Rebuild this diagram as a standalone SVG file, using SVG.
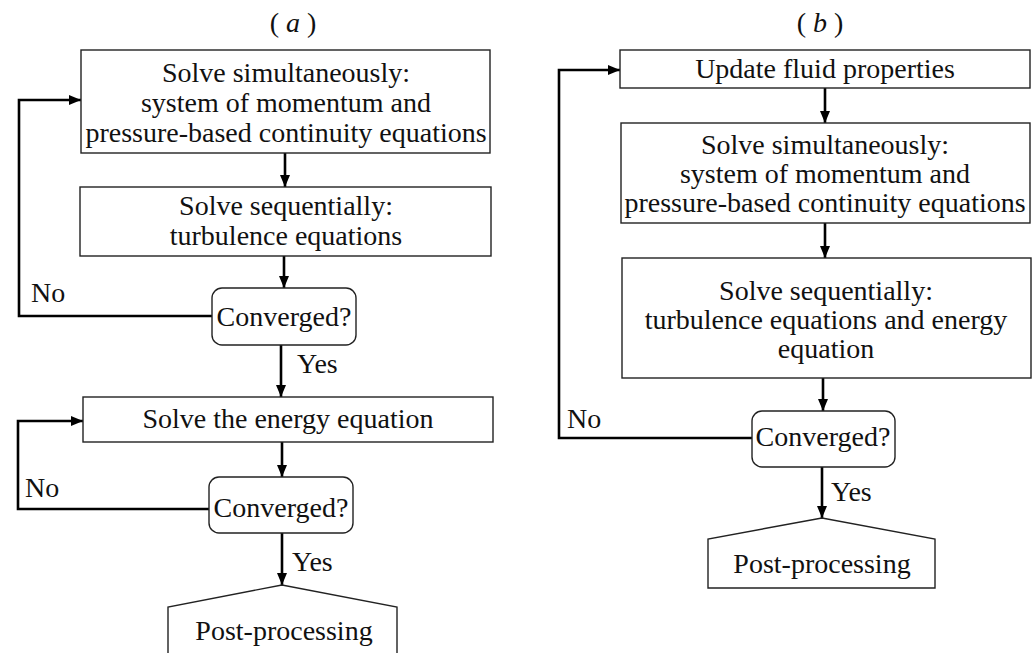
<svg xmlns="http://www.w3.org/2000/svg" width="1034" height="653" viewBox="0 0 1034 653">
<defs>
<marker id="ah" viewBox="0 0 12 10" refX="12" refY="5" markerWidth="12" markerHeight="10" markerUnits="userSpaceOnUse" orient="auto">
<path d="M0,0 L12,5 L0,10 z" fill="#000"/>
</marker>
<style>
text{font-family:"Liberation Serif","Times New Roman",serif;font-size:28px;fill:#111;text-anchor:middle}
.lbl{text-anchor:start}
.box{fill:#fff;stroke:#222;stroke-width:1.4}
.con{fill:none;stroke:#000;stroke-width:2.6}
.arr{marker-end:url(#ah)}
</style>
</defs>
<rect width="1034" height="653" fill="#fff"/>
<text x="293" y="32">( <tspan font-style="italic">a</tspan> )</text>
<text x="820" y="32">( <tspan font-style="italic">b</tspan> )</text>
<g id="connectors">
<line class="con arr" x1="285" y1="153" x2="285" y2="187"/>
<line class="con arr" x1="284" y1="256" x2="284" y2="288"/>
<polyline class="con arr" points="212,316 19,316 19,100 81,100"/>
<line class="con arr" x1="281" y1="345" x2="281" y2="397"/>
<line class="con arr" x1="282" y1="442" x2="282" y2="477"/>
<polyline class="con arr" points="209,509 18,509 18,421 83,421"/>
<line class="con arr" x1="282" y1="533" x2="282" y2="585"/>
<line class="con arr" x1="825" y1="88" x2="825" y2="123"/>
<line class="con arr" x1="825" y1="223" x2="825" y2="258"/>
<line class="con arr" x1="823" y1="378" x2="823" y2="411"/>
<polyline class="con arr" points="752,438 559,438 559,70 620,70"/>
<line class="con arr" x1="822" y1="467" x2="822" y2="518"/>
</g>
<g id="labels">
<text class="lbl" x="31" y="302">No</text>
<text class="lbl" x="297" y="373">Yes</text>
<text class="lbl" x="25" y="497">No</text>
<text class="lbl" x="292" y="571">Yes</text>
<text class="lbl" x="567" y="428">No</text>
<text class="lbl" x="831" y="501">Yes</text>
</g>
<g id="a1">
<rect class="box" x="81" y="50" width="409" height="103"/>
<text x="286" y="82">Solve simultaneously:</text>
<text x="286" y="112">system of momentum and</text>
<text x="286" y="142">pressure-based continuity equations</text>
</g>
<g id="a2">
<rect class="box" x="80" y="187" width="411" height="69"/>
<text x="286" y="215">Solve sequentially:</text>
<text x="286" y="245">turbulence equations</text>
</g>
<g id="a3">
<rect class="box" x="212" y="288" width="144" height="57" rx="10"/>
<text x="284" y="326">Converged?</text>
</g>
<g id="a4">
<rect class="box" x="83" y="397" width="410" height="45"/>
<text x="288" y="428">Solve the energy equation</text>
</g>
<g id="a5">
<rect class="box" x="209" y="477" width="144" height="56" rx="10"/>
<text x="281" y="517">Converged?</text>
</g>
<g id="a6">
<polygon class="box" points="282,585 168,607 168,660 397,660 397,607"/>
<text x="284" y="640">Post-processing</text>
</g>
<g id="b1">
<rect class="box" x="620" y="50" width="410" height="38"/>
<text x="825" y="78">Update fluid properties</text>
</g>
<g id="b2">
<rect class="box" x="621" y="123" width="409" height="100"/>
<text x="825" y="154">Solve simultaneously:</text>
<text x="825" y="183">system of momentum and</text>
<text x="825" y="212">pressure-based continuity equations</text>
</g>
<g id="b3">
<rect class="box" x="622" y="258" width="409" height="120"/>
<text x="826" y="300">Solve sequentially:</text>
<text x="826" y="329">turbulence equations and energy</text>
<text x="826" y="358">equation</text>
</g>
<g id="b4">
<rect class="box" x="752" y="411" width="143" height="56" rx="10"/>
<text x="823" y="446">Converged?</text>
</g>
<g id="b5">
<polygon class="box" points="822,518 708,539 708,588 935,588 935,539"/>
<text x="822" y="573">Post-processing</text>
</g>
</svg>
